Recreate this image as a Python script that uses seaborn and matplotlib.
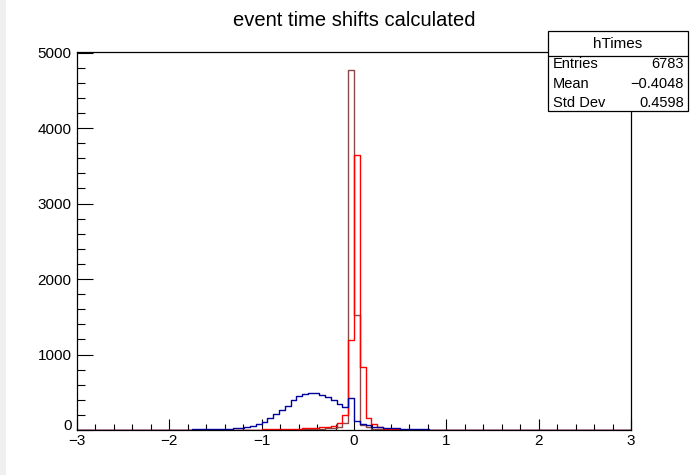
import numpy as np
import pandas as pd
import seaborn as sns
import matplotlib
matplotlib.use("Agg")
import matplotlib.pyplot as plt
import matplotlib.transforms as mtransforms
from matplotlib.patches import Rectangle
from matplotlib.lines import Line2D
from matplotlib.ticker import MultipleLocator

# ---------------- data ----------------
title = "event time shifts calculated"
x_lo, x_hi, n_bins = -3.0, 3.0, 96

# counts per bin (bin k covers [-3 + k/16, -3 + (k+1)/16])
blue_counts = [0, 0, 0, 0, 0, 0, 0, 0, 1, 0, 1, 1, 2, 2, 2, 3,
               3, 4, 5, 6, 7, 10, 8, 10, 12, 14, 18, 22, 30, 42, 55, 75,
               100, 155, 210, 260, 320, 400, 455, 480, 492, 495, 470, 435, 395, 345, 310, 425,
               120, 85, 60, 45, 38, 30, 25, 20, 16, 13, 10, 8, 7, 6, 5, 4,
               3, 3, 2, 2, 1, 1, 1, 1, 1, 1, 1, 0, 1, 0, 1, 0,
               0, 1, 0, 0, 0, 0, 0, 0, 0, 0, 0, 0, 0, 0, 0, 0]
red_counts = [0, 0, 0, 0, 0, 0, 0, 0, 0, 0, 0, 0, 0, 0, 0, 1,
              0, 1, 1, 1, 1, 1, 1, 2, 2, 2, 2, 2, 3, 3, 3, 5,
              8, 10, 12, 12, 14, 15, 18, 20, 25, 30, 35, 42, 50, 95, 200, 1190,
              3640, 840, 160, 80, 35, 18, 10, 7, 5, 4, 3, 2, 2, 1, 1, 1,
              1, 1, 1, 0, 1, 0, 1, 0, 0, 1, 0, 0, 0, 0, 0, 0,
              0, 0, 0, 0, 0, 0, 0, 0, 0, 0, 0, 0, 0, 0, 0, 0]
black_counts = [0] * 38 + [5, 8, 10, 15, 18, 22, 28, 40, 95, 4770,
                           1530, 65, 40, 18, 10, 6, 4, 3, 2, 1] + [0] * 38

stats_name = "hTimes"
stats_labels = ["Entries", "Mean", "Std Dev"]
stats_values = ["6783", "\u22120.4048", "0.4598"]

x_ticks = [-3, -2, -1, 0, 1, 2, 3]
y_ticks = [0, 1000, 2000, 3000, 4000, 5000]

# ---------------- figure ----------------
W, H = 691, 475
sns.set_style("white")
plt.rcParams['font.family'] = ['Liberation Sans', 'DejaVu Sans']
plt.rcParams['axes.unicode_minus'] = True
plt.rcParams['text.color'] = 'black'
plt.rcParams['xtick.color'] = 'black'
plt.rcParams['ytick.color'] = 'black'
plt.rcParams['xtick.labelcolor'] = 'black'
plt.rcParams['ytick.labelcolor'] = 'black'

fig = plt.figure(figsize=(W / 100, H / 100), dpi=100)
fig.patch.set_facecolor("white")
L, R, T, B = 77, 631, 52, 430
ax = fig.add_axes([L / W, 1 - B / H, (R - L) / W, (B - T) / H])

bin_w = (x_hi - x_lo) / n_bins
centers = x_lo + bin_w * (np.arange(n_bins) + 0.5)
df = pd.DataFrame({"x": centers, "blue": blue_counts, "red": red_counts, "black": black_counts})

for col, color in [("black", "#8a4848"), ("red", "#ff0000"), ("blue", "#00009c")]:
    sns.histplot(data=df, x="x", weights=col, bins=n_bins, binrange=(x_lo, x_hi),
                 element="step", fill=False, color=color, linewidth=1.0, ax=ax)

ax.set_xlim(x_lo, x_hi)
ax.set_ylim(0, 5008)
ax.set_xlabel("")
ax.set_ylabel("")
ax.set_xticks(x_ticks)
ax.set_xticklabels([f"{v:d}".replace("-", "\u2212") for v in x_ticks])
ax.set_yticks(y_ticks)
ax.set_yticklabels([str(v) for v in y_ticks])
ax.xaxis.set_minor_locator(MultipleLocator(0.2))
ax.yaxis.set_minor_locator(MultipleLocator(200))
ax.tick_params(axis="x", which="major", direction="in", length=8, width=0.8, color="black",
               labelsize=11, pad=3, bottom=True, top=False, labelcolor="black")
ax.tick_params(axis="x", which="minor", direction="in", length=4, width=0.8, color="black",
               bottom=True, top=False)
ax.tick_params(axis="y", which="major", direction="in", length=11.5, width=0.8, color="black",
               labelsize=11, pad=4, left=True, right=False, labelcolor="black")
ax.tick_params(axis="y", which="minor", direction="in", length=5.8, width=0.8, color="black",
               left=True, right=False)
for s in ax.spines.values():
    s.set_visible(True)
    s.set_color("black")
    s.set_linewidth(0.9)

# nudge the "0" y label up a little (as in the reference)
zero_lab = ax.get_yticklabels()[0]
zero_lab.set_transform(zero_lab.get_transform() +
                       mtransforms.ScaledTranslation(0, 5 / 100, fig.dpi_scale_trans))

# left grey strip
fig.patches.append(Rectangle((0, 0), 6 / W, 1, transform=fig.transFigure,
                             facecolor="#f0f0f0", edgecolor="none", zorder=0))

# title
fig.text(354 / W, 1 - 20 / H, title, ha="center", va="center", fontsize=14.5, color="black")

# stats box
bx0, bx1, by0, by1 = 548, 688, 31, 111
fig.patches.append(Rectangle((bx0 / W, 1 - by1 / H), (bx1 - bx0) / W, (by1 - by0) / H,
                             transform=fig.transFigure, facecolor="white",
                             edgecolor="black", linewidth=0.9, zorder=5))
fig.lines.append(Line2D([bx0 / W, bx1 / W], [1 - 56 / H, 1 - 56 / H],
                        transform=fig.transFigure, color="black", linewidth=0.9, zorder=6))
fig.text((bx0 + bx1) / 2 / W, 1 - 44 / H, stats_name, ha="center", va="center",
         fontsize=11, zorder=7, color="black")
for i, (lab, val) in enumerate(zip(stats_labels, stats_values)):
    yy = 1 - (64 + 19.5 * i) / H
    fig.text((bx0 + 5) / W, yy, lab, ha="left", va="center", fontsize=10.5, zorder=7, color="black")
    fig.text((bx1 - 4) / W, yy, val, ha="right", va="center", fontsize=10.5, zorder=7, color="black")

fig.savefig("out.png", dpi=100)
